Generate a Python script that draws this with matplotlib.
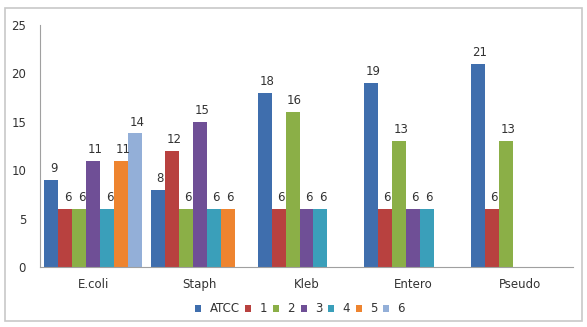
import matplotlib.pyplot as plt
import numpy as np
from matplotlib.patches import Rectangle

categorias = ["E.coli", "Staph", "Kleb", "Entero", "Pseudo"]
series = ["ATCC", "1", "2", "3", "4", "5", "6"]
# nan = sem barra
atcc = [9, 8, 18, 19, 21]
s1 = [6, 12, 6, 6, 6]
s2 = [6, 6, 16, 13, 13]
s3 = [11, 15, 6, 6, np.nan]
s4 = [6, 6, 6, 6, np.nan]
s5 = [11, 6, np.nan, np.nan, np.nan]
s6 = [13.8, np.nan, np.nan, np.nan, np.nan]
valores = [atcc, s1, s2, s3, s4, s5, s6]

cores = ["#3F6EAD", "#B8413F", "#8BAF47", "#6F4F96", "#3A9FBA", "#EE842F", "#93AFD8"]

fig = plt.figure(figsize=(5.87, 3.27), dpi=100)
fig.patches.append(Rectangle((5 / 587, 6 / 327), 577 / 587, 313 / 327, transform=fig.transFigure,
                             fill=False, edgecolor="#C8C8C8", linewidth=1.2))
ax = fig.add_axes([40 / 587, 1 - 267 / 327, 533 / 587, 242 / 327])

x = np.arange(len(categorias))
larg = 0.131
for i, (nome, vals) in enumerate(zip(series, valores)):
    pos = x + (i - 3) * larg
    ax.bar(pos, vals, larg, color=cores[i], label=nome)
    for p, v in zip(pos, vals):
        if not np.isnan(v):
            ax.text(p + 0.02, v + 0.5, "%.0f" % v, ha="center", va="bottom", fontsize=8.5, color="#333333")

ax.set_xlim(-0.5, len(categorias) - 0.5)
ax.set_ylim(0, 25)
ax.set_yticks(range(0, 26, 5))
ax.set_xticks(x)
ax.set_xticklabels(categorias)
ax.tick_params(axis="both", length=0, labelsize=8.5, colors="#333333")
ax.tick_params(axis="x", pad=8)
ax.tick_params(axis="y", pad=10)
for lado in ["top", "right"]:
    ax.spines[lado].set_visible(False)
ax.spines["left"].set_color("#A0A0A0")
ax.spines["bottom"].set_color("#A0A0A0")

ax.legend(loc="center", bbox_to_anchor=(300 / 587, 1 - 309 / 327), bbox_transform=fig.transFigure,
          ncol=7, frameon=False, fontsize=8.5, handlelength=0.5, handleheight=0.5,
          handletextpad=0.7, columnspacing=0.5, labelcolor="#333333")

fig.savefig("out.png", dpi=100)
